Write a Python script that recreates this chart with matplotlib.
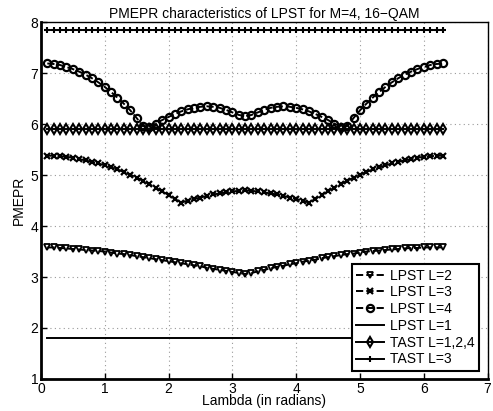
import matplotlib
matplotlib.use('Agg')
import matplotlib.pyplot as plt
import numpy as np

plt.rcParams['font.family'] = ['Liberation Sans', 'DejaVu Sans']
plt.rcParams['font.size'] = 10

# lambda = 0.1:0.1:6.3
lam = np.round(np.arange(1, 64) * 0.1, 1)

lpst_l2 = [3.58, 3.58, 3.57, 3.56, 3.55, 3.54, 3.53, 3.52, 3.51, 3.50,
           3.48, 3.46, 3.45, 3.43, 3.41, 3.39, 3.37, 3.35, 3.33, 3.31,
           3.29, 3.27, 3.25, 3.23, 3.21, 3.18, 3.16, 3.14, 3.12, 3.10,
           3.08, 3.06, 3.08, 3.11, 3.14, 3.17, 3.20, 3.22, 3.25, 3.27,
           3.30, 3.32, 3.34, 3.37, 3.39, 3.41, 3.43, 3.45, 3.46, 3.48,
           3.50, 3.51, 3.52, 3.53, 3.54, 3.55, 3.56, 3.57, 3.57, 3.58,
           3.58, 3.58, 3.58]

lpst_l3 = [5.38, 5.38, 5.37, 5.36, 5.34, 5.31, 5.29, 5.26, 5.23, 5.19,
           5.15, 5.11, 5.06, 5.01, 4.95, 4.89, 4.82, 4.75, 4.68, 4.61,
           4.53, 4.46, 4.50, 4.53, 4.56, 4.59, 4.62, 4.64, 4.66, 4.68,
           4.69, 4.70, 4.69, 4.68, 4.66, 4.64, 4.62, 4.59, 4.56, 4.53,
           4.50, 4.46, 4.53, 4.61, 4.68, 4.75, 4.82, 4.89, 4.95, 5.01,
           5.06, 5.11, 5.15, 5.19, 5.23, 5.26, 5.29, 5.31, 5.34, 5.36,
           5.37, 5.38, 5.38]

lpst_l4 = [7.19, 7.18, 7.16, 7.12, 7.08, 7.03, 6.97, 6.90, 6.82, 6.73,
           6.63, 6.52, 6.40, 6.27, 6.12, 5.96, 5.95, 6.01, 6.08, 6.14,
           6.20, 6.25, 6.29, 6.32, 6.34, 6.35, 6.34, 6.32, 6.28, 6.23,
           6.18, 6.16, 6.18, 6.23, 6.28, 6.32, 6.34, 6.35, 6.34, 6.32,
           6.29, 6.25, 6.20, 6.14, 6.08, 6.01, 5.95, 5.96, 6.12, 6.27,
           6.40, 6.52, 6.63, 6.73, 6.82, 6.90, 6.97, 7.03, 7.08, 7.12,
           7.16, 7.18, 7.19]

lpst_l1 = 1.8
tast_l124 = 5.9
tast_l3 = 7.85

fig = plt.figure(figsize=(4.93, 4.11), dpi=100)
ax = fig.add_axes([0.083, 0.078, 0.906, 0.868])

lw = 1.4
ax.plot(lam, lpst_l2, 'k--v', lw=lw, ms=5, mfc='none', mew=1.3, label='LPST L=2')
ax.plot(lam, lpst_l3, 'k--x', lw=lw, ms=4, mew=1.6, label='LPST L=3')
ax.plot(lam, lpst_l4, 'k--o', lw=lw, ms=5.2, mfc='none', mew=1.6, label='LPST L=4')
ax.plot(lam, np.full(len(lam), lpst_l1), 'k-', lw=lw, label='LPST L=1')
ax.plot(lam, np.full(len(lam), tast_l124), 'k-d', lw=lw, ms=5.5, mfc='none', mew=1.5,
        label='TAST L=1,2,4')
ax.plot(lam, np.full(len(lam), tast_l3), 'k-+', lw=lw, ms=5, mew=1.5, label='TAST L=3')

ax.set_xlim(0, 7)
ax.set_ylim(1, 8)
ax.set_xticks(range(0, 8))
ax.set_yticks(range(1, 9))
ax.grid(True, color='0.6', linestyle=(0, (1, 3)), lw=0.8)
ax.tick_params(direction='in', length=4, width=1, pad=2, labelsize=10)
for s in ['left', 'bottom']:
    ax.spines[s].set_linewidth(2)
for s in ['top', 'right']:
    ax.spines[s].set_linewidth(1)

ax.set_title('PMEPR characteristics of LPST for M=4, 16\u2212QAM', fontsize=10, pad=3)
ax.set_xlabel('Lambda (in radians)', fontsize=10, labelpad=-1)
ax.set_ylabel('PMEPR', fontsize=10, labelpad=3)

leg = ax.legend(loc='lower right', fontsize=10, numpoints=1, handlelength=2.0,
                fancybox=False, framealpha=1, edgecolor='k', borderaxespad=0.6,
                labelspacing=0.2, handletextpad=0.5, borderpad=0.3)
leg.get_frame().set_linewidth(1.5)

fig.savefig('out.png', dpi=100)
